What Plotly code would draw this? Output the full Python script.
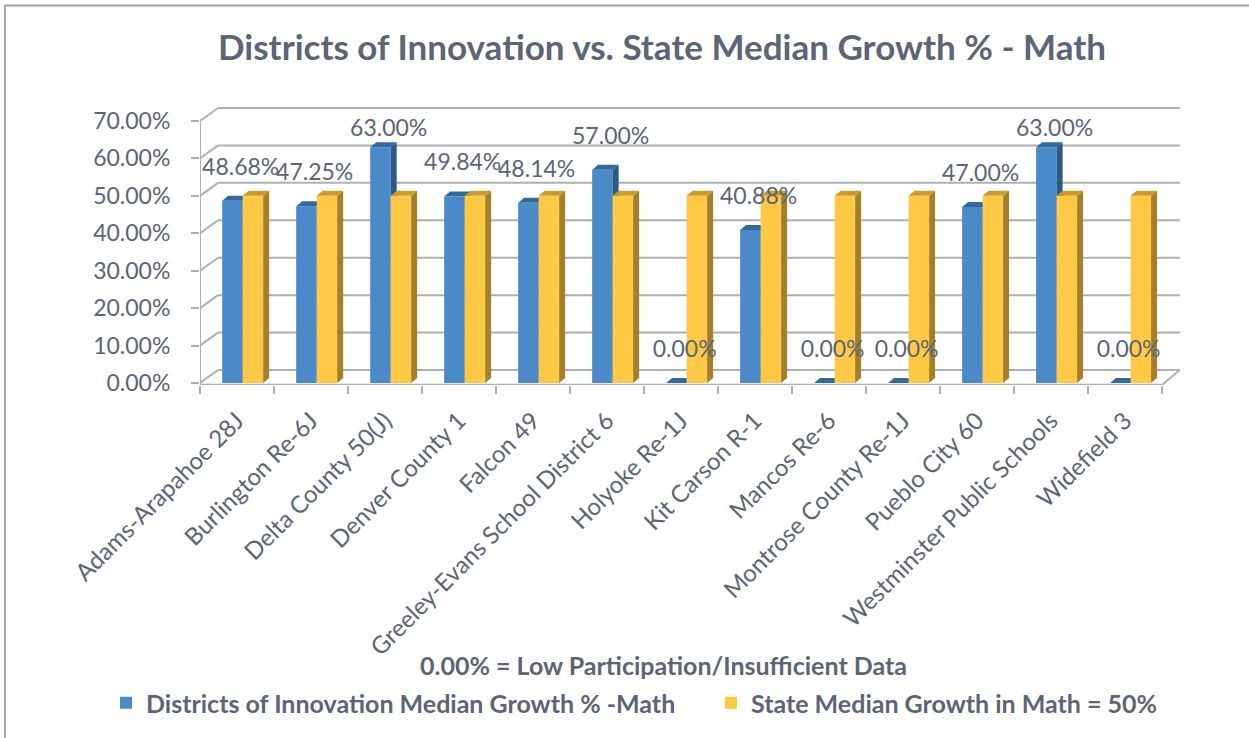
import plotly.graph_objects as go

districts = ["Adams-Arapahoe 28J", "Burlington Re-6J", "Delta County 50(J)", "Denver County 1",
             "Falcon 49", "Greeley-Evans School District 6", "Holyoke Re-1J", "Kit Carson R-1",
             "Mancos Re-6", "Montrose County Re-1J", "Pueblo City 60", "Westminster Public Schools",
             "Widefield 3"]
innovation = [0.4868, 0.4725, 0.63, 0.4984, 0.4814, 0.57, 0.0, 0.4088, 0.0, 0.0, 0.47, 0.63, 0.0]
state = [0.50] * 13
y_ticks = [0.0, 0.1, 0.2, 0.3, 0.4, 0.5, 0.6, 0.7]

TXT = "#5b6573"
GRID = "#aeb0b3"
FONT = "Lato"

BLUE, BLUE_TOP, BLUE_SIDE = "#4a8ac9", "#336a9e", "#2c5985"
YEL, YEL_TOP, YEL_SIDE = "#ffc845", "#c99a2e", "#a4802c"

# geometry (axis units)
W = 0.277          # bar width
OFF_B, OFF_Y = -0.20, 0.077
DXB, DYB = 0.081, 0.0134     # bar depth shear
DXW, DYW = 0.243, 0.0347     # wall depth shear
YMIN, YMAX = -0.0053, 0.7427
XMIN, XMAX = -0.5, 12.88
n = len(districts)
xs = list(range(n))


def faces(values, off):
    tx, ty, sx, sy = [], [], [], []
    for i, v in enumerate(values):
        xl, xr = i + off, i + off + W
        tx += [xl, xr, xr + DXB, xl + DXB, xl, None]
        ty += [v, v, v + DYB, v + DYB, v, None]
        sx += [xr, xr, xr + DXB, xr + DXB, xr, None]
        sy += [0, v, v + DYB, DYB, 0, None]
    return tx, ty, sx, sy


fig = go.Figure()

# blue front faces
fig.add_trace(go.Bar(x=xs, y=innovation, width=W, offset=OFF_B, marker=dict(color=BLUE, line_width=0),
                     name="<b>Districts of Innovation Median Growth % -Math</b>", xaxis="x", yaxis="y",
                     hoverinfo="skip", legend="legend"))
tx, ty, sx, sy = faces(innovation, OFF_B)
fig.add_trace(go.Scatter(x=sx, y=sy, fill="toself", fillcolor=BLUE_SIDE, mode="none",
                         showlegend=False, xaxis="x2", yaxis="y2", hoverinfo="skip"))
fig.add_trace(go.Scatter(x=tx, y=ty, fill="toself", fillcolor=BLUE_TOP, mode="none",
                         showlegend=False, xaxis="x2", yaxis="y2", hoverinfo="skip"))
# yellow
fig.add_trace(go.Bar(x=xs, y=state, width=W, offset=OFF_Y, marker=dict(color=YEL, line_width=0),
                     name="<b>State Median Growth in Math = 50%</b>", xaxis="x3", yaxis="y3",
                     hoverinfo="skip", legend="legend2"))
tx, ty, sx, sy = faces(state, OFF_Y)
fig.add_trace(go.Scatter(x=sx, y=sy, fill="toself", fillcolor=YEL_SIDE, mode="none",
                         showlegend=False, xaxis="x4", yaxis="y4", hoverinfo="skip"))
fig.add_trace(go.Scatter(x=tx, y=ty, fill="toself", fillcolor=YEL_TOP, mode="none",
                         showlegend=False, xaxis="x4", yaxis="y4", hoverinfo="skip"))
# data labels
fig.add_trace(go.Scatter(x=[i + 0.05 for i in xs], y=[min(v + 0.085, 0.675) for v in innovation],
                         text=[f"{v*100:.2f}%" for v in innovation], mode="text",
                         textfont=dict(family=FONT, size=23, color=TXT),
                         showlegend=False, xaxis="x4", yaxis="y4", hoverinfo="skip",
                         cliponaxis=False))

# 3D box drawn from tick values
shapes = []
for v in y_ticks:
    shapes.append(dict(type="line", xref="x", yref="y", x0=XMIN + DXW, x1=n - 0.5 + DXW,
                       y0=v + DYW, y1=v + DYW, line=dict(color=GRID, width=2), layer="below"))
    shapes.append(dict(type="line", xref="x", yref="y", x0=XMIN, x1=XMIN + DXW,
                       y0=v, y1=v + DYW, line=dict(color=GRID, width=2), layer="below"))
# front left edge (y axis line)
shapes.append(dict(type="line", xref="x", yref="y", x0=XMIN, x1=XMIN, y0=YMIN, y1=y_ticks[-1],
                   line=dict(color=GRID, width=2), layer="below"))
# floor front edge and right edge
shapes.append(dict(type="line", xref="x", yref="y", x0=XMIN, x1=n - 0.5, y0=YMIN, y1=YMIN,
                   line=dict(color=GRID, width=2.5), layer="below"))
shapes.append(dict(type="line", xref="x", yref="y", x0=n - 0.5, x1=n - 0.5 + DXW, y0=YMIN, y1=DYW,
                   line=dict(color=GRID, width=2), layer="below"))
# chart frame
shapes.append(dict(type="rect", xref="paper", yref="paper", x0=-0.197, x1=1.08, y0=-1.3, y1=1.355,
                   line=dict(color="#a6a6a6", width=2), fillcolor="rgba(0,0,0,0)", layer="below"))

axis_hidden = dict(range=[XMIN, XMAX], visible=False, fixedrange=True)
yaxis_hidden = dict(range=[YMIN, YMAX], visible=False, fixedrange=True)

legend_common = dict(orientation="h", y=(385 - 703) / 280, yanchor="middle", xanchor="left",
                     font=dict(family=FONT, size=25, color=TXT), bgcolor="rgba(0,0,0,0)",
                     itemwidth=30)

fig.update_layout(
    width=1249, height=738,
    margin=dict(l=200, r=59, t=105, b=353, autoexpand=False),
    paper_bgcolor="white", plot_bgcolor="rgba(0,0,0,0)",
    font=dict(family=FONT, color=TXT),
    title=dict(text="<b>Districts of Innovation vs. State Median Growth % - Math</b>",
               x=662 / 1249, xanchor="center", xref="container", y=1 - 48 / 738, yanchor="middle",
               yref="container", font=dict(family=FONT, size=35, color=TXT)),
    xaxis=dict(range=[XMIN, XMAX], tickmode="array", tickvals=xs, ticktext=districts,
               tickangle=-45, ticks="", showgrid=False, zeroline=False, showline=False,
               tickfont=dict(family=FONT, size=24, color=TXT), automargin=False, fixedrange=True,
               ticklabelstandoff=16,
               minor=dict(tickmode="array", tickvals=[i - 0.5 for i in range(n + 1)],
                          ticks="outside", ticklen=8, tickwidth=2, tickcolor=GRID, showgrid=False)),
    yaxis=dict(range=[YMIN, YMAX], tickmode="array", tickvals=y_ticks,
               ticktext=[f"{v*100:.2f}%" for v in y_ticks], ticks="outside", ticklen=8,
               tickwidth=2, tickcolor=GRID, showgrid=False, zeroline=False, showline=False,
               ticklabelstandoff=16,
               tickfont=dict(family=FONT, size=23, color=TXT), automargin=False, fixedrange=True),
    xaxis2=dict(overlaying="x", **axis_hidden), yaxis2=dict(overlaying="y", **yaxis_hidden),
    xaxis3=dict(overlaying="x", **axis_hidden), yaxis3=dict(overlaying="y", **yaxis_hidden),
    xaxis4=dict(overlaying="x", **axis_hidden), yaxis4=dict(overlaying="y", **yaxis_hidden),
    showlegend=True,
    legend=dict(x=(106 - 200) / 990, **legend_common),
    legend2=dict(x=(711 - 200) / 990, **legend_common),
    shapes=shapes,
    annotations=[dict(text="<b>0.00% = Low Participation/Insufficient Data</b>", xref="paper",
                      yref="paper", x=(663 - 200) / 990, y=(385 - 665) / 280, showarrow=False,
                      xanchor="center", yanchor="middle",
                      font=dict(family=FONT, size=25, color=TXT))],
)

fig.write_html("out.html", config={"displayModeBar": False},
               post_script="document.body.style.margin='0';document.body.style.overflow='hidden';")
